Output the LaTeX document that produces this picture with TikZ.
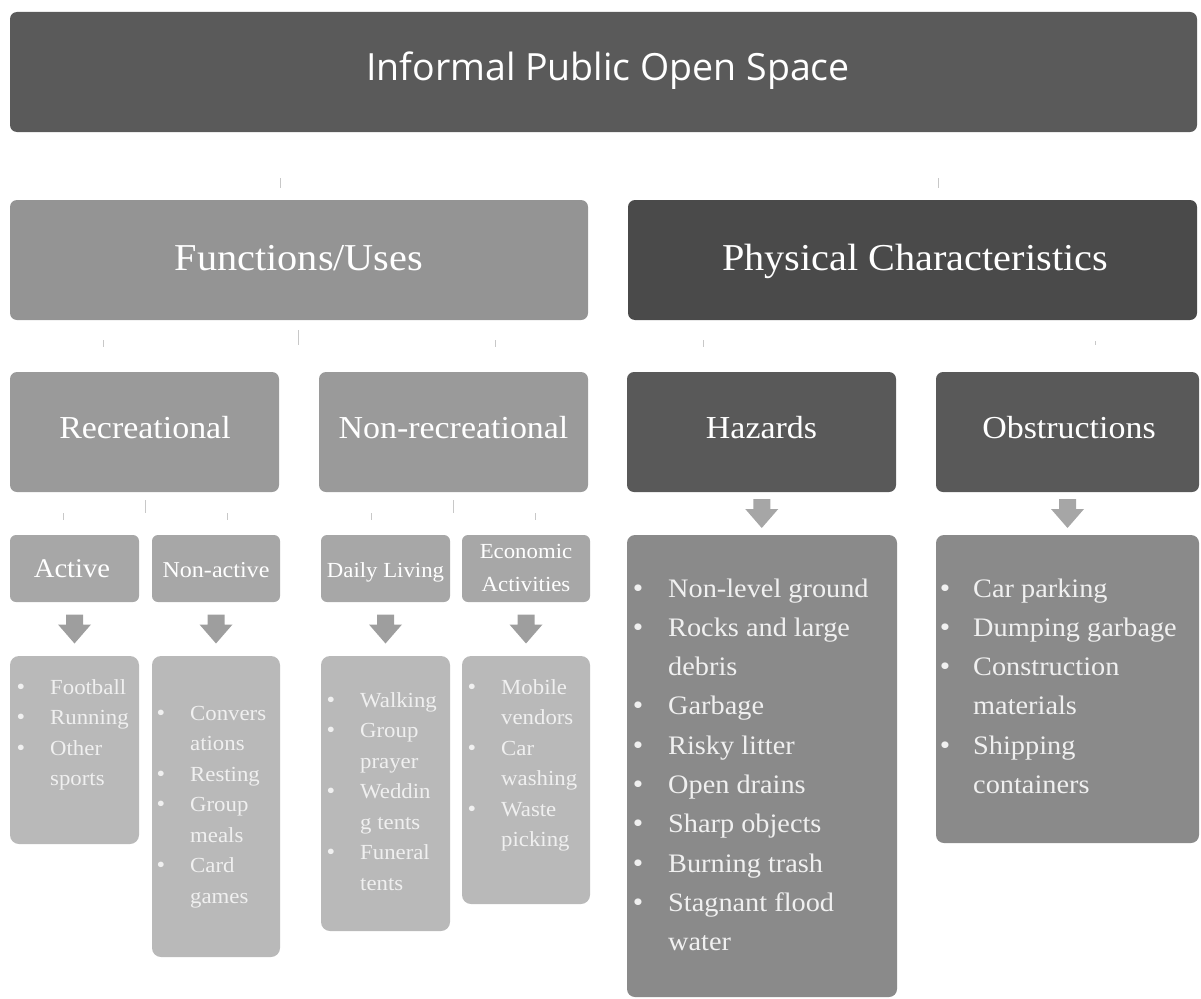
\documentclass[tikz,border=0pt]{standalone}
\usepackage{fontspec}
\setmainfont{Liberation Serif}[FakeStretch=1.06]
\newfontfamily\titlefont{Open Sans}
\usetikzlibrary{calc}
\definecolor{cTitle}{HTML}{5A5A5A}
\definecolor{cFun}{HTML}{949494}
\definecolor{cPhys}{HTML}{4A4A4A}
\definecolor{cRec}{HTML}{9A9A9A}
\definecolor{cHaz}{HTML}{595959}
\definecolor{cSub}{HTML}{A7A7A7}
\definecolor{cList}{HTML}{B9B9B9}
\definecolor{cHList}{HTML}{8A8A8A}
\definecolor{cArr}{HTML}{9E9E9E}
\definecolor{cArrH}{HTML}{A6A6A6}
\definecolor{cTick}{HTML}{C8C8C8}
\definecolor{cTxt}{HTML}{F0F0F0}
\tikzset{
  boxbase/.style={draw=none, rounded corners=7pt, inner sep=0pt, outer sep=0pt},
  bigbox/.style={boxbase, minimum height=120pt},
  subbox/.style={boxbase, rounded corners=6pt, minimum height=67pt},
  hd/.style={text=white, inner sep=0pt, anchor=base},
  ltxt/.style={text=cTxt, inner sep=0pt, anchor=base west, font=\fontsize{21.5}{26}\selectfont},
  lbul/.style={text=cTxt, inner sep=0pt, anchor=base, font=\fontsize{23}{26}\selectfont},
  htxt/.style={text=cTxt, inner sep=0pt, anchor=base west, font=\fontsize{26.7}{32}\selectfont},
  hbul/.style={text=cTxt, inner sep=0pt, anchor=base, font=\fontsize{28}{32}\selectfont},
  tick/.style={draw=cTick, line width=1pt},
  dnarrow/.pic={\fill[pic actions] (-8.5,-14.5) -- (8.5,-14.5) -- (8.5,-4.5) -- (16.5,-4.5) -- (0,14.5) -- (-16.5,-4.5) -- (-8.5,-4.5) -- cycle;}
}
\begin{document}
\begin{tikzpicture}[x=1pt,y=-1pt]
\useasboundingbox (0,0) rectangle (1201,998);
% level 0
\node[bigbox, fill=cTitle, minimum width=1187pt] (title) at (603.5,72) {};
\node[hd, font=\titlefont\fontsize{37.5}{44}\selectfont] (titletxt) at (608,81) {Informal Public Open Space};
% level 1
\node[bigbox, fill=cFun, minimum width=578pt] (fun) at (299,260) {};
\node[hd, font=\fontsize{38}{45}\selectfont] (funtxt) at (299,270) {Functions/Uses};
\node[bigbox, fill=cPhys, minimum width=569pt] (phys) at (912.5,260) {};
\node[hd, font=\fontsize{38}{45}\selectfont] (phystxt) at (915,270) {Physical Characteristics};
% level 2
\node[bigbox, fill=cRec, minimum width=269pt] (rec) at (144.5,432) {};
\node[hd, font=\fontsize{32}{38}\selectfont] (rectxt) at (145,438) {Recreational};
\node[bigbox, fill=cRec, minimum width=269pt] (nrec) at (453.5,432) {};
\node[hd, font=\fontsize{32}{38}\selectfont] (nrectxt) at (453.5,438) {Non-recreational};
\node[bigbox, fill=cHaz, minimum width=269pt] (haz) at (761.5,432) {};
\node[hd, font=\fontsize{32}{38}\selectfont] (haztxt) at (761.5,438) {Hazards};
\node[bigbox, fill=cHaz, minimum width=263pt] (obs) at (1067.5,432) {};
\node[hd, font=\fontsize{32}{38}\selectfont] (obstxt) at (1069,438) {Obstructions};
% level 3 headers
\node[subbox, fill=cSub, minimum width=129pt] (act) at (74.5,568.5) {};
\node[hd, font=\fontsize{27}{32}\selectfont] (acttxt) at (72,577) {Active};
\node[subbox, fill=cSub, minimum width=128pt] (nact) at (216,568.5) {};
\node[hd, font=\fontsize{22.7}{27}\selectfont] (nacttxt) at (216,577) {Non-active};
\node[subbox, fill=cSub, minimum width=129pt] (daily) at (385.5,568.5) {};
\node[hd, font=\fontsize{21.5}{26}\selectfont] (dailytxt) at (385.5,577) {Daily Living};
\node[subbox, fill=cSub, minimum width=128pt] (econ) at (526,568.5) {};
\node[hd, font=\fontsize{21.5}{26}\selectfont] (econtxt1) at (526,558) {Economic};
\node[hd, font=\fontsize{21.5}{26}\selectfont] (econtxt2) at (526,591) {Activities};
% lists
\node[boxbase, rounded corners=9pt, fill=cList, minimum width=129pt, minimum height=188pt] (actl) at (74.5,750) {};
\node[boxbase, rounded corners=9pt, fill=cList, minimum width=128pt, minimum height=301pt] (nactl) at (216,806.5) {};
\node[boxbase, rounded corners=9pt, fill=cList, minimum width=129pt, minimum height=275pt] (dailyl) at (385.5,793.5) {};
\node[boxbase, rounded corners=9pt, fill=cList, minimum width=128pt, minimum height=248pt] (econl) at (526,780) {};
\node[boxbase, rounded corners=8pt, fill=cHList, minimum width=270pt, minimum height=462pt] (hazl) at (762,766) {};
\node[boxbase, rounded corners=8pt, fill=cHList, minimum width=263pt, minimum height=308pt] (obsl) at (1067.5,689) {};
% arrows
\pic[fill=cArr] at ($(act.south)!0.5!(actl.north)$) {dnarrow};
\pic[fill=cArr] at ($(nact.south)!0.5!(nactl.north)$) {dnarrow};
\pic[fill=cArr] at ($(daily.south)!0.5!(dailyl.north)$) {dnarrow};
\pic[fill=cArr] at ($(econ.south)!0.5!(econl.north)$) {dnarrow};
\pic[fill=cArrH] at ($(haz.south)!0.5!(hazl.north)$) {dnarrow};
\pic[fill=cArrH] at ($(obs.south)!0.5!(obsl.north)$) {dnarrow};
% faint connector ticks
\draw[tick] (280,178) -- (280,188);
\draw[tick] (938,178) -- (938,188);
\draw[tick] (103,340) -- (103,347);
\draw[tick] (298,330) -- (298,345);
\draw[tick] (495,340) -- (495,347);
\draw[tick] (703,340) -- (703,347);
\draw[tick] (1095,341) -- (1095,345);
\draw[tick] (63,513) -- (63,520);
\draw[tick] (145,500) -- (145,513);
\draw[tick] (227,513) -- (227,520);
\draw[tick] (371,513) -- (371,520);
\draw[tick] (453,500) -- (453,513);
\draw[tick] (535,513) -- (535,520);
% list texts: Active
\foreach \t [count=\i from 0] in {Football,Running,Other,sports}
  \node[ltxt] (a\i) at (50,694+30.5*\i) {\t};
\foreach \i in {0,1,2}
  \node[lbul] (ab\i) at (21,694+30.5*\i) {•};
% Non-active
\foreach \t [count=\i from 0] in {Convers,ations,Resting,Group,meals,Card,games}
  \node[ltxt] (n\i) at (190,720+30.5*\i) {\t};
\foreach \i in {0,2,3,5}
  \node[lbul] (nb\i) at (161,720+30.5*\i) {•};
% Daily living
\foreach \t [count=\i from 0] in {Walking,Group,prayer,Weddin,g tents,Funeral,tents}
  \node[ltxt] (d\i) at (360,707+30.5*\i) {\t};
\foreach \i in {0,1,3,5}
  \node[lbul] (db\i) at (331,707+30.5*\i) {•};
% Economic
\foreach \t [count=\i from 0] in {Mobile,vendors,Car,washing,Waste,picking}
  \node[ltxt] (e\i) at (501,694+30.5*\i) {\t};
\foreach \i in {0,2,4}
  \node[lbul] (eb\i) at (472,694+30.5*\i) {•};
% Hazards
\foreach \t [count=\i from 0] in {Non-level ground,Rocks and large,debris,Garbage,Risky litter,Open drains,Sharp objects,Burning trash,Stagnant flood,water}
  \node[htxt] (h\i) at (668,597+39.3*\i) {\t};
\foreach \i in {0,1,3,4,5,6,7,8}
  \node[hbul] (hb\i) at (638,597+39.3*\i) {•};
% Obstructions
\foreach \t [count=\i from 0] in {Car parking,Dumping garbage,Construction,materials,Shipping,containers}
  \node[htxt] (o\i) at (973,597+39.3*\i) {\t};
\foreach \i in {0,1,2,4}
  \node[hbul] (ob\i) at (945,597+39.3*\i) {•};
\end{tikzpicture}
\end{document}
